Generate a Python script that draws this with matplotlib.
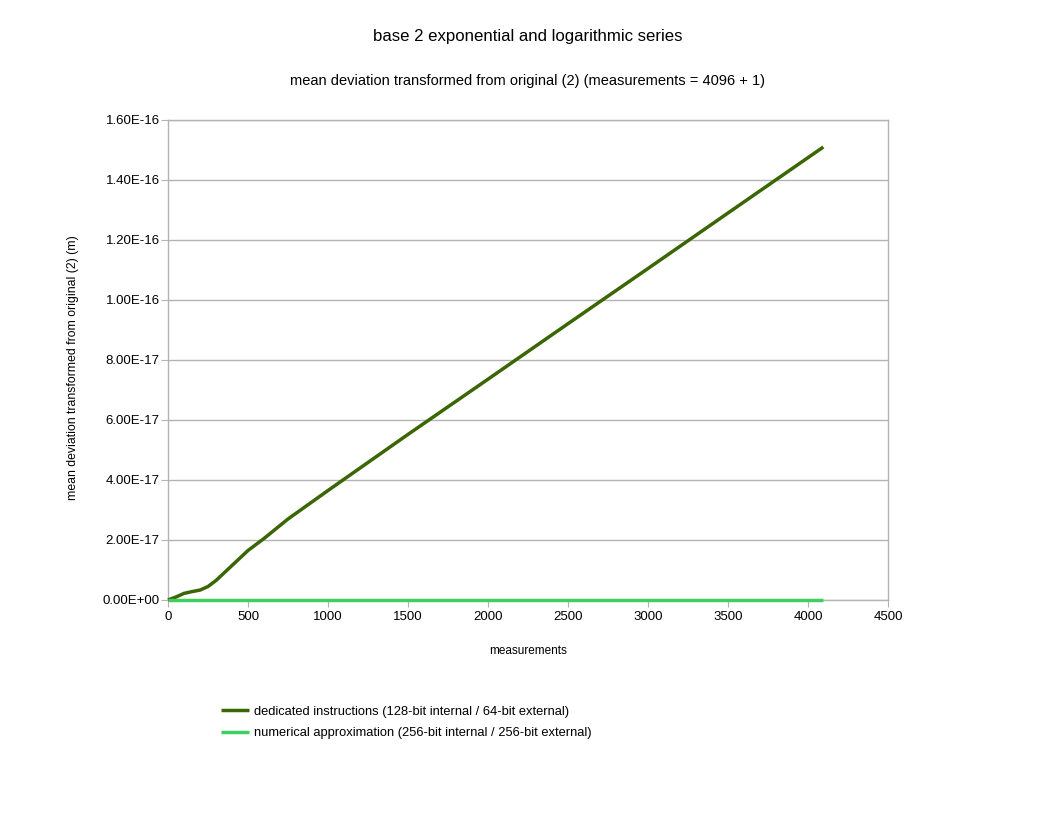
import matplotlib
matplotlib.use('Agg')
import matplotlib.pyplot as plt
from matplotlib.ticker import FuncFormatter

plt.rcParams['font.family'] = ['Liberation Sans', 'DejaVu Sans']

# values
measurements = [0, 50, 100, 150, 200, 250, 300, 400, 500, 600, 750, 1000,
                1500, 2000, 2500, 3000, 3500, 4096]
dedicated = [0.0, 0.10, 0.22, 0.28, 0.33, 0.45, 0.65, 1.15, 1.65, 2.05, 2.70,
             3.65, 5.52, 7.36, 9.21, 11.05, 12.90, 15.10]
dedicated = [v * 1e-17 for v in dedicated]
numerical = [0.0] * len(measurements)

dedicated_label = 'dedicated instructions (128-bit internal / 64-bit external)'
numerical_label = 'numerical approximation (256-bit internal / 256-bit external)'

grid_color = '#b3b3b3'

fig = plt.figure(figsize=(10.56, 8.16), dpi=100)
ax = fig.add_axes([168 / 1056, 1 - 600 / 816, 720 / 1056, 480 / 816])

ax.plot(measurements, dedicated, color='#3a6604', linewidth=2.5, label=dedicated_label,
        solid_capstyle='butt', zorder=4, clip_on=False)
ax.plot(measurements, numerical, color='#3fcf5f', linewidth=2.5, label=numerical_label,
        solid_capstyle='butt', zorder=5, clip_on=False)

ax.set_xlim(0, 4500)
ax.set_ylim(0, 1.6e-16)
ax.set_xticks(range(0, 4501, 500))
ax.set_yticks([i * 2e-17 for i in range(9)])
ax.yaxis.set_major_formatter(FuncFormatter(lambda v, p: '%.2E' % v))
ax.grid(True, axis='y', color=grid_color, linewidth=1)
ax.set_axisbelow(True)
for s in ax.spines.values():
    s.set_color(grid_color)
    s.set_linewidth(1)
    s.set_zorder(1)
ax.tick_params(axis='both', direction='out', length=5, color=grid_color,
               labelsize=9.5)
ax.tick_params(axis='y', pad=1)
ax.tick_params(axis='x', pad=3)

ax.set_xlabel('measurements', fontsize=8.5, labelpad=16)
fig.text(73 / 1056, 1 - 368 / 816, 'mean deviation transformed from original (2) (m)',
         rotation=90, ha='center', va='center', fontsize=8.8)

fig.text(528 / 1056, 1 - 37 / 816, 'base 2 exponential and logarithmic series',
         ha='center', va='center', fontsize=12.1)
fig.text(528 / 1056, 1 - 81 / 816,
         'mean deviation transformed from original (2) (measurements = 4096 + 1)',
         ha='center', va='center', fontsize=10.5)

fig.legend(loc='upper left', bbox_to_anchor=(209 / 1056, 1 - 694 / 816), frameon=False,
           fontsize=9.3, handlelength=2.2, handletextpad=0.4, labelspacing=0.75)

plt.savefig('out.png')
plt.close()
